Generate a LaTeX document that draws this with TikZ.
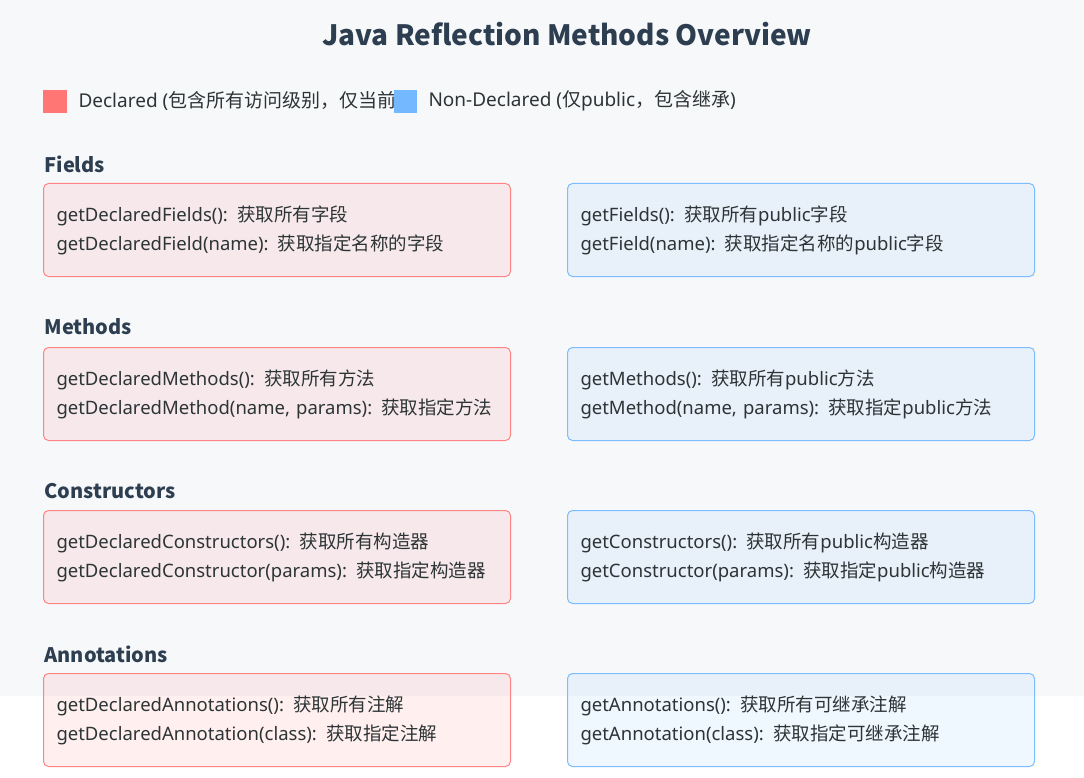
\documentclass[tikz,border=0pt]{standalone}
\usepackage{fontspec}
\setmainfont{Noto Sans}
\newfontfamily\zh{Noto Sans CJK SC}
\newfontfamily\zhhead{Noto Sans CJK SC}
\usetikzlibrary{arrows,%
                shapes,positioning}

\definecolor{bgGray}{HTML}{F7F8FA}
\definecolor{declRed}{HTML}{FF7675}
\definecolor{pubBlue}{HTML}{74B9FF}
\definecolor{titleInk}{HTML}{2C3E50}
\definecolor{textInk}{HTML}{2D3436}

\tikzset{
  methbox/.style={rounded corners=5pt, line width=1pt, fill opacity=0.11,
    draw opacity=1, text opacity=1,
    minimum width=467pt, minimum height=93pt, text width=441pt,
    inner xsep=13pt, inner ysep=0pt, align=left, anchor=north west,
    text=textInk, font=\fontsize{18.5}{29}\selectfont},
  declbox/.style={methbox, draw=declRed!90, fill=declRed},
  pubbox/.style={methbox, draw=pubBlue!95, fill=pubBlue},
  grouphead/.style={anchor=west, text=titleInk, font=\zhhead\bfseries\fontsize{20}{24}\selectfont},
  legendtext/.style={anchor=west, text=textInk, font=\fontsize{19}{20}\selectfont}
}

\begin{document}
\begin{tikzpicture}[x=1pt,y=-1pt]
\useasboundingbox (0,0) rectangle (1084,778);
\fill[white] (0,0) rectangle (1084,778);
\fill[bgGray] (0,0) rectangle (1084,696);

\node[text=titleInk, font=\zhhead\bfseries\fontsize{28}{34}\selectfont] (title) at (567,34) {Java Reflection Methods Overview};

% legend
\fill[declRed] (43,90) rectangle (67,113);
\node[legendtext] (legdecl) at (75,101) {Declared ({\zh 包含所有访问级别，仅当前}};
\fill[pubBlue] (394,90) rectangle (417,113);
\node[legendtext] (legpub) at (425,101) {Non-Declared ({\zh 仅}public{\zh ，包含继承})};

% fields
\node[grouphead] (hfields) at (41,164) {Fields};
\node[declbox] (fdecl) at (43,183) {getDeclaredFields(): {\zh 获取所有字段}\\getDeclaredField(name): {\zh 获取指定名称的字段}};
\node[pubbox] (fpub) at (567,183) {getFields(): {\zh 获取所有}public{\zh 字段}\\getField(name): {\zh 获取指定名称的}public{\zh 字段}};

% methods
\node[grouphead] (hmethods) at (41,327) {Methods};
\node[declbox] (mdecl) at (43,347) {getDeclaredMethods(): {\zh 获取所有方法}\\getDeclaredMethod(name, params): {\zh 获取指定方法}};
\node[pubbox] (mpub) at (567,347) {getMethods(): {\zh 获取所有}public{\zh 方法}\\getMethod(name, params): {\zh 获取指定}public{\zh 方法}};

% constructors
\node[grouphead] (hcons) at (41,491) {Constructors};
\node[declbox] (cdecl) at (43,510) {getDeclaredConstructors(): {\zh 获取所有构造器}\\getDeclaredConstructor(params): {\zh 获取指定构造器}};
\node[pubbox] (cpub) at (567,510) {getConstructors(): {\zh 获取所有}public{\zh 构造器}\\getConstructor(params): {\zh 获取指定}public{\zh 构造器}};

% annotations
\node[grouphead] (hannot) at (41,654) {Annotations};
\node[declbox] (adecl) at (43,673) {getDeclaredAnnotations(): {\zh 获取所有注解}\\getDeclaredAnnotation(class): {\zh 获取指定注解}};
\node[pubbox] (apub) at (567,673) {getAnnotations(): {\zh 获取所有可继承注解}\\getAnnotation(class): {\zh 获取指定可继承注解}};
\end{tikzpicture}
\end{document}
